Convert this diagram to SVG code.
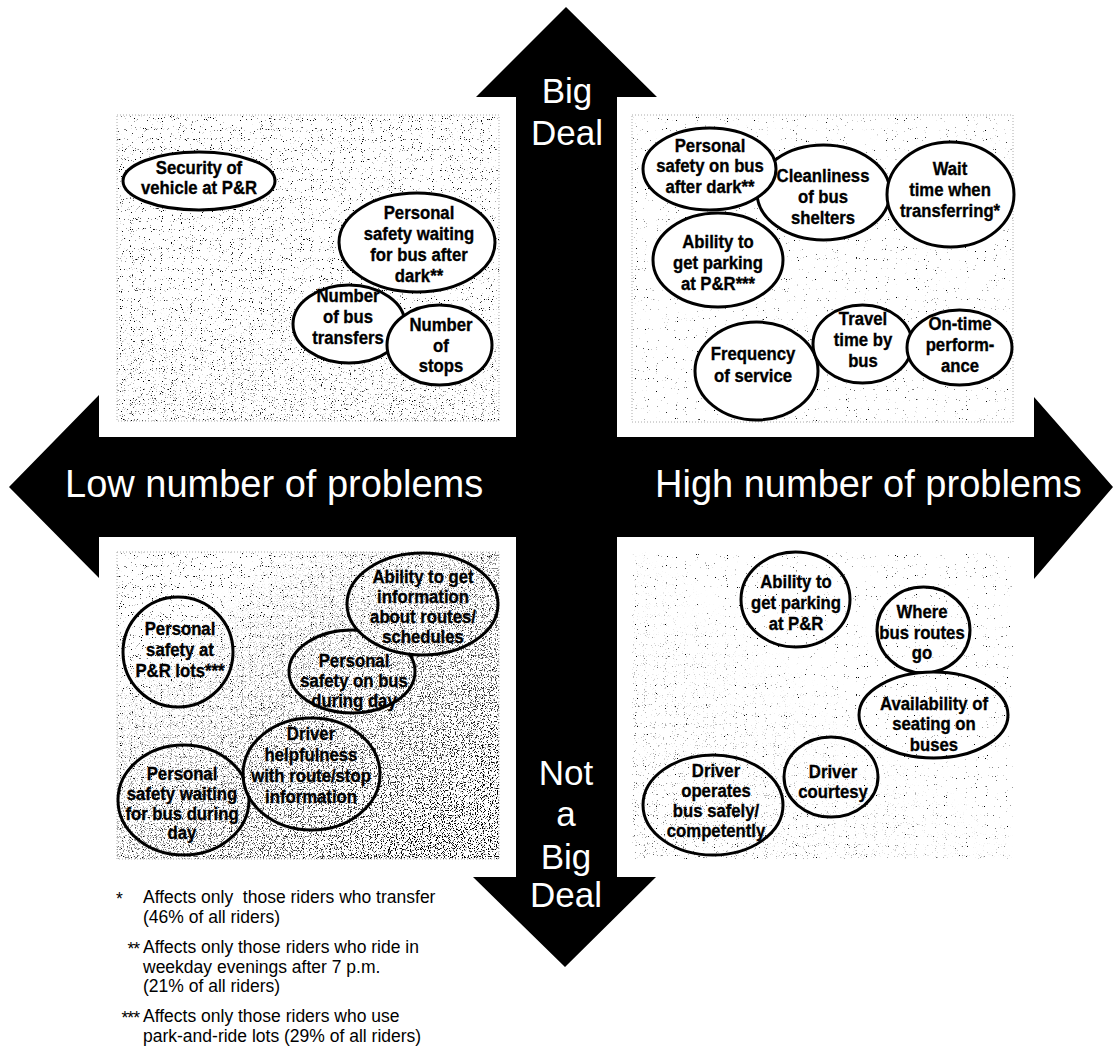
<svg xmlns="http://www.w3.org/2000/svg" width="1115" height="1049" viewBox="0 0 1115 1049">
<style>
.node ellipse{stroke:#000;stroke-width:3}
.tl ellipse,.tr ellipse{fill:#fff}
.bl ellipse{fill:url(#patBL)}
.br ellipse{fill:url(#patBR)}
.node text{font-family:"Liberation Sans",Arial,sans-serif;font-weight:bold;font-size:19px;text-anchor:middle;fill:#000;stroke:#000;stroke-width:0.35}
.ax{font-family:"Liberation Sans",Arial,sans-serif;fill:#fff;font-size:38px}
.axv{font-family:"Liberation Sans",Arial,sans-serif;fill:#fff;font-size:35px;text-anchor:middle}
.fn{font-family:"Liberation Sans",Arial,sans-serif;font-size:17.5px;fill:#000}
.panel{stroke:#aaa;stroke-width:1;stroke-dasharray:1 2}
</style>
<defs>
<filter id="nLight" x="0" y="0" width="1" height="1" color-interpolation-filters="sRGB">
<feTurbulence type="fractalNoise" baseFrequency="0.9" numOctaves="1" seed="2"/>
<feColorMatrix type="matrix" values="0 0 0 0 0 0 0 0 0 0 0 0 0 0 0 14 0 0 0 -9.3"/>
<feComposite in2="SourceGraphic" operator="in"/>
</filter>
<filter id="nSparse" x="0" y="0" width="1" height="1" color-interpolation-filters="sRGB">
<feTurbulence type="fractalNoise" baseFrequency="0.9" numOctaves="1" seed="5"/>
<feColorMatrix type="matrix" values="0 0 0 0 0 0 0 0 0 0 0 0 0 0 0 14 0 0 0 -9.9"/>
<feComposite in2="SourceGraphic" operator="in"/>
</filter>
<filter id="nDense" x="0" y="0" width="1" height="1" color-interpolation-filters="sRGB">
<feTurbulence type="fractalNoise" baseFrequency="0.85" numOctaves="1" seed="9"/>
<feColorMatrix type="matrix" values="0 0 0 0 0 0 0 0 0 0 0 0 0 0 0 14 0 0 0 -7.9"/>
<feComposite in2="SourceGraphic" operator="in"/>
</filter>
<linearGradient id="gBL" x1="0" y1="0" x2="1" y2="1">
<stop offset="0.2" stop-color="#000"/>
<stop offset="0.85" stop-color="#fff"/>
</linearGradient>
<linearGradient id="gBR" x1="1" y1="0" x2="0" y2="1">
<stop offset="0.45" stop-color="#000"/>
<stop offset="1" stop-color="#aaa"/>
</linearGradient>
<linearGradient id="gTL" x1="0" y1="0" x2="0" y2="1">
<stop offset="0.6" stop-color="#000"/>
<stop offset="1" stop-color="#999"/>
</linearGradient>
<mask id="mBL" maskUnits="userSpaceOnUse" x="117" y="552" width="382" height="307"><rect x="117" y="552" width="382" height="307" fill="url(#gBL)"/></mask>
<mask id="mBR" maskUnits="userSpaceOnUse" x="632" y="552" width="381" height="307"><rect x="632" y="552" width="381" height="307" fill="url(#gBR)"/></mask>
<mask id="mTL" maskUnits="userSpaceOnUse" x="117" y="115" width="382" height="306"><rect x="117" y="115" width="382" height="306" fill="url(#gTL)"/></mask>
<pattern id="patTL" patternUnits="userSpaceOnUse" x="117" y="115" width="382" height="306">
<rect width="382" height="306" fill="#fff"/>
<rect width="382" height="306" fill="#fff" filter="url(#nLight)"/>
</pattern>
<pattern id="patTR" patternUnits="userSpaceOnUse" x="632" y="115" width="381" height="307">
<rect width="381" height="307" fill="#fff"/>
<rect width="381" height="307" fill="#fff" filter="url(#nSparse)"/>
</pattern>
<pattern id="patBL" patternUnits="userSpaceOnUse" x="117" y="552" width="382" height="307">
<rect width="382" height="307" fill="#fff"/>
<rect width="382" height="307" fill="#fff" filter="url(#nLight)"/>
<g transform="translate(-117 -552)"><rect x="117" y="552" width="382" height="307" fill="#fff" filter="url(#nDense)" mask="url(#mBL)"/></g>
</pattern>
<pattern id="patBR" patternUnits="userSpaceOnUse" x="632" y="552" width="381" height="307">
<rect width="381" height="307" fill="#fff"/>
<rect width="381" height="307" fill="#fff" filter="url(#nSparse)"/>
<g transform="translate(-632 -552)"><rect x="632" y="552" width="381" height="307" fill="#fff" filter="url(#nLight)" mask="url(#mBR)"/></g>
</pattern>
</defs>
<rect width="1115" height="1049" fill="#fff"/>

<g id="panels">
<rect class="panel" x="117" y="115" width="382" height="306" fill="url(#patTL)"/>
<rect x="117" y="115" width="382" height="306" fill="#fff" filter="url(#nLight)" mask="url(#mTL)"/>
<rect class="panel" x="632" y="115" width="381" height="307" fill="url(#patTR)"/>
<rect class="panel" x="117" y="552" width="382" height="307" fill="url(#patBL)"/>
<rect x="632" y="552" width="381" height="307" fill="url(#patBR)"/>
</g>

<g id="axes">
<polygon points="566,7 657,97 617,97 617,877 656,877 565,967 473,877 516,877 516,97 476,97" fill="#000"/>
<polygon points="9,487 99,395 99,437 1034,437 1034,397 1113,487 1034,579 1034,537 99,537 99,578" fill="#000"/>
<text class="axv" x="567" y="103">Big</text>
<text class="axv" x="567" y="145">Deal</text>
<text class="axv" x="566" y="785">Not</text>
<text class="axv" x="566" y="826">a</text>
<text class="axv" x="566" y="869">Big</text>
<text class="axv" x="566" y="907">Deal</text>
<text class="ax" x="65" y="497">Low number of problems</text>
<text class="ax" x="655" y="497">High number of problems</text>
</g>

<g id="connectors"></g>

<!-- Top-left quadrant -->
<g id="node-security" class="node tl">
<ellipse cx="199" cy="181" rx="76" ry="29"/>
<text transform="translate(199 0) scale(.88 1)"><tspan x="0" y="174">Security of</tspan><tspan x="0" y="194">vehicle at P&amp;R</tspan></text>
</g>
<g id="node-safety-waiting-dark" class="node tl">
<ellipse cx="417" cy="242.5" rx="78" ry="49.5"/>
<text transform="translate(419 0) scale(.88 1)"><tspan x="0" y="219">Personal</tspan><tspan x="0" y="240">safety waiting</tspan><tspan x="0" y="261">for bus after</tspan><tspan x="0" y="282">dark**</tspan></text>
</g>
<g id="node-bus-transfers" class="node tl">
<ellipse cx="349" cy="324" rx="56" ry="39"/>
<text transform="translate(348 0) scale(.88 1)"><tspan x="0" y="302">Number</tspan><tspan x="0" y="323">of bus</tspan><tspan x="0" y="344">transfers</tspan></text>
</g>
<g id="node-stops" class="node tl">
<ellipse cx="439.5" cy="345" rx="52.5" ry="40"/>
<text transform="translate(441 0) scale(.88 1)"><tspan x="0" y="331">Number</tspan><tspan x="0" y="352">of</tspan><tspan x="0" y="372">stops</tspan></text>
</g>

<!-- Top-right quadrant -->
<g id="node-cleanliness" class="node tr">
<ellipse cx="823.5" cy="192.5" rx="66.5" ry="47.5"/>
<text transform="translate(823 0) scale(.88 1)"><tspan x="0" y="182">Cleanliness</tspan><tspan x="0" y="203">of bus</tspan><tspan x="0" y="224">shelters</tspan></text>
</g>
<g id="node-safety-bus-dark" class="node tr">
<ellipse cx="709.5" cy="169" rx="66.5" ry="41"/>
<text transform="translate(710 0) scale(.88 1)"><tspan x="0" y="152">Personal</tspan><tspan x="0" y="172">safety on bus</tspan><tspan x="0" y="193">after dark**</tspan></text>
</g>
<g id="node-wait-time" class="node tr">
<ellipse cx="950.5" cy="194.5" rx="63.5" ry="52.5"/>
<text transform="translate(950 0) scale(.88 1)"><tspan x="0" y="175">Wait</tspan><tspan x="0" y="196">time when</tspan><tspan x="0" y="217">transferring*</tspan></text>
</g>
<g id="node-parking-high" class="node tr">
<ellipse cx="718" cy="260" rx="65" ry="47"/>
<text transform="translate(718 0) scale(.88 1)"><tspan x="0" y="248">Ability to</tspan><tspan x="0" y="269">get parking</tspan><tspan x="0" y="290">at P&amp;R***</tspan></text>
</g>
<g id="node-frequency" class="node tr">
<ellipse cx="756.5" cy="371" rx="61.5" ry="49"/>
<text transform="translate(753 0) scale(.88 1)"><tspan x="0" y="360">Frequency</tspan><tspan x="0" y="382">of service</tspan></text>
</g>
<g id="node-travel-time" class="node tr">
<ellipse cx="862.5" cy="344" rx="49.5" ry="39"/>
<text transform="translate(863 0) scale(.88 1)"><tspan x="0" y="325">Travel</tspan><tspan x="0" y="346">time by</tspan><tspan x="0" y="367">bus</tspan></text>
</g>
<g id="node-on-time" class="node tr">
<ellipse cx="959.5" cy="347.5" rx="52.5" ry="37.5"/>
<text transform="translate(960 0) scale(.88 1)"><tspan x="0" y="330">On-time</tspan><tspan x="0" y="351">perform-</tspan><tspan x="0" y="372">ance</tspan></text>
</g>

<!-- Bottom-left quadrant -->
<g id="node-safety-pr-lots" class="node bl">
<ellipse cx="178" cy="652" rx="55" ry="55"/>
<text transform="translate(180 0) scale(.88 1)"><tspan x="0" y="635">Personal</tspan><tspan x="0" y="656">safety at</tspan><tspan x="0" y="677">P&amp;R lots***</tspan></text>
</g>
<g id="node-safety-bus-day" class="node bl">
<ellipse cx="352" cy="671.5" rx="63" ry="41.5"/>
<text transform="translate(354 0) scale(.88 1)"><tspan x="0" y="667">Personal</tspan><tspan x="0" y="687">safety on bus</tspan><tspan x="0" y="707">during day</tspan></text>
</g>
<g id="node-route-info" class="node bl">
<ellipse cx="422.5" cy="604" rx="75.5" ry="51"/>
<text transform="translate(423 0) scale(.88 1)"><tspan x="0" y="583">Ability to get</tspan><tspan x="0" y="603">information</tspan><tspan x="0" y="623">about routes/</tspan><tspan x="0" y="643">schedules</tspan></text>
</g>
<g id="node-safety-waiting-day" class="node bl">
<ellipse cx="183.5" cy="800" rx="65.5" ry="55"/>
<text transform="translate(182 0) scale(.88 1)"><tspan x="0" y="780">Personal</tspan><tspan x="0" y="800">safety waiting</tspan><tspan x="0" y="820">for bus during</tspan><tspan x="0" y="839">day</tspan></text>
</g>
<g id="node-driver-helpfulness" class="node bl">
<ellipse cx="311.5" cy="774" rx="68.5" ry="56"/>
<text transform="translate(311 0) scale(.88 1)"><tspan x="0" y="740">Driver</tspan><tspan x="0" y="761">helpfulness</tspan><tspan x="0" y="782">with route/stop</tspan><tspan x="0" y="803">information</tspan></text>
</g>

<!-- Bottom-right quadrant -->
<g id="node-parking-low" class="node br">
<ellipse cx="795.5" cy="599.5" rx="54.5" ry="47.5"/>
<text transform="translate(796 0) scale(.88 1)"><tspan x="0" y="588">Ability to</tspan><tspan x="0" y="609">get parking</tspan><tspan x="0" y="630">at P&amp;R</tspan></text>
</g>
<g id="node-where-routes" class="node br">
<ellipse cx="923.5" cy="630" rx="46.5" ry="43"/>
<text transform="translate(922 0) scale(.88 1)"><tspan x="0" y="618">Where</tspan><tspan x="0" y="639">bus routes</tspan><tspan x="0" y="659">go</tspan></text>
</g>
<g id="node-seating" class="node br">
<ellipse cx="933.5" cy="715" rx="74.5" ry="43"/>
<text transform="translate(934 0) scale(.88 1)"><tspan x="0" y="710">Availability of</tspan><tspan x="0" y="730">seating on</tspan><tspan x="0" y="751">buses</tspan></text>
</g>
<g id="node-courtesy" class="node br">
<ellipse cx="831" cy="777" rx="47" ry="40"/>
<text transform="translate(833 0) scale(.88 1)"><tspan x="0" y="778">Driver</tspan><tspan x="0" y="798">courtesy</tspan></text>
</g>
<g id="node-driver-safely" class="node br">
<ellipse cx="713" cy="805" rx="70" ry="50"/>
<text transform="translate(716 0) scale(.88 1)"><tspan x="0" y="777">Driver</tspan><tspan x="0" y="797">operates</tspan><tspan x="0" y="817">bus safely/</tspan><tspan x="0" y="837">competently</tspan></text>
</g>

<g id="footnotes">
<text class="fn" x="116" y="905">*</text>
<text class="fn" x="143" y="903" style="white-space:pre">Affects only  those riders who transfer</text>
<text class="fn" x="143" y="923">(46% of all riders)</text>
<text class="fn" x="139" y="955" text-anchor="end" letter-spacing="-1">**</text>
<text class="fn" x="143" y="953">Affects only those riders who ride in</text>
<text class="fn" x="143" y="973">weekday evenings after 7 p.m.</text>
<text class="fn" x="143" y="992">(21% of all riders)</text>
<text class="fn" x="139" y="1024" text-anchor="end" letter-spacing="-1">***</text>
<text class="fn" x="143" y="1022">Affects only those riders who use</text>
<text class="fn" x="143" y="1042">park-and-ride lots (29% of all riders)</text>
</g>
</svg>
